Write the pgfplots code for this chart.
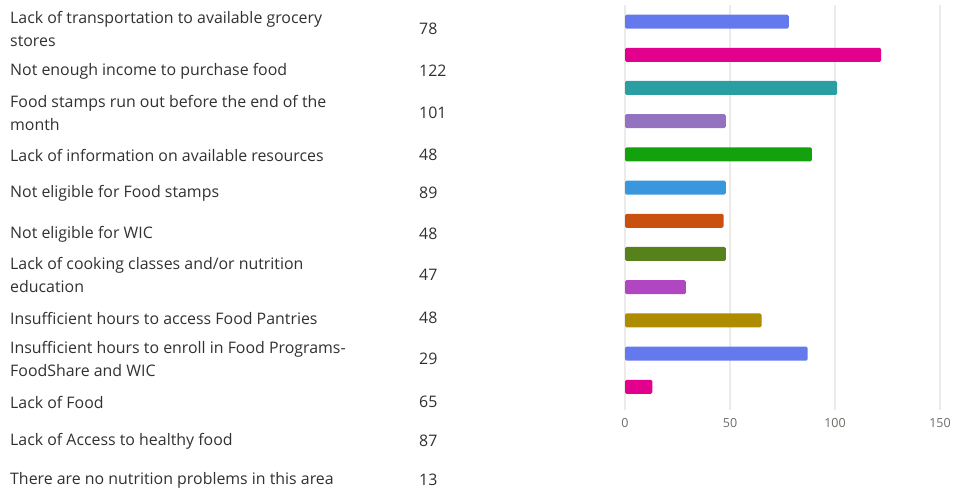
\documentclass[border=0pt]{standalone}
\usepackage{pgfplots}
\pgfplotsset{compat=1.18}
\usepackage{fontspec}
\setmainfont{Open Sans}
\definecolor{c1}{HTML}{6479EE}
\definecolor{c2}{HTML}{E3008C}
\definecolor{c3}{HTML}{2A9FA3}
\definecolor{c4}{HTML}{9373C0}
\definecolor{c5}{HTML}{13A10E}
\definecolor{c6}{HTML}{3A96DD}
\definecolor{c7}{HTML}{CA5010}
\definecolor{c8}{HTML}{57811B}
\definecolor{c9}{HTML}{B146C2}
\definecolor{c10}{HTML}{AE8C00}
\definecolor{txt}{HTML}{323130}
\definecolor{tick}{HTML}{6E6B68}
\definecolor{gridc}{HTML}{EDEBE9}
\begin{document}
\begin{tikzpicture}
\path[use as bounding box] (0,0) rectangle (953bp,491bp);
\begin{axis}[
  at={(625bp,81bp)}, anchor=south west,
  width=315bp, height=405bp, scale only axis,
  xmin=0, xmax=150, ymin=-0.5, ymax=11.7, y dir=reverse,
  xbar, bar width=14bp,
  axis line style={draw=none}, tick style={draw=none},
  xtick={0,50,100,150}, ytick=\empty,
  xmajorgrids, grid style={gridc, line width=1.3bp},
  xticklabel style={font=\fontsize{12.5bp}{14bp}\selectfont, text=tick, yshift=-5bp},
  /pgf/number format/assume math mode=true,
  every axis plot/.append style={bar shift=0pt, draw=none, rounded corners=1.5bp},
  clip=false,
]
\addplot[fill=c1] coordinates {(78,0)};
\addplot[fill=c2] coordinates {(122,1)};
\addplot[fill=c3] coordinates {(101,2)};
\addplot[fill=c4] coordinates {(48,3)};
\addplot[fill=c5] coordinates {(89,4)};
\addplot[fill=c6] coordinates {(48,5)};
\addplot[fill=c7] coordinates {(47,6)};
\addplot[fill=c8] coordinates {(48,7)};
\addplot[fill=c9] coordinates {(29,8)};
\addplot[fill=c10] coordinates {(65,9)};
\addplot[fill=c1] coordinates {(87,10)};
\addplot[fill=c2] coordinates {(13,11)};
\end{axis}
\begin{scope}[every node/.style={anchor=west, inner sep=0pt, align=left, text=txt,
  font=\fontsize{15.9bp}{22.5bp}\selectfont}]
\node at (10bp,462bp) {Lack of transportation to available grocery\\stores};
\node at (10bp,420bp) {Not enough income to purchase food};
\node at (10bp,378bp) {Food stamps run out before the end of the\\month};
\node at (10bp,336bp) {Lack of information on available resources};
\node at (10bp,298bp) {Not eligible for Food stamps};
\node at (10bp,257bp) {Not eligible for WIC};
\node at (10bp,216bp) {Lack of cooking classes and/or nutrition\\education};
\node at (10bp,173bp) {Insufficient hours to access Food Pantries};
\node at (10bp,132bp) {Insufficient hours to enroll in Food Programs-\\FoodShare and WIC};
\node at (10bp,89bp) {Lack of Food};
\node at (10bp,50bp) {Lack of Access to healthy food};
\node at (10bp,11bp) {There are no nutrition problems in this area};
\node at (419bp,462bp) {78};
\node at (419bp,420bp) {122};
\node at (419bp,378bp) {101};
\node at (419bp,336bp) {48};
\node at (419bp,298bp) {89};
\node at (419bp,257bp) {48};
\node at (419bp,216bp) {47};
\node at (419bp,173bp) {48};
\node at (419bp,132bp) {29};
\node at (419bp,89bp) {65};
\node at (419bp,50bp) {87};
\node at (419bp,11bp) {13};
\end{scope}
\end{tikzpicture}
\end{document}
